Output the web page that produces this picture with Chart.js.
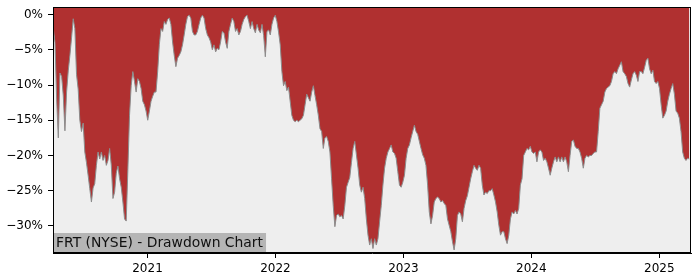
<!DOCTYPE html>
<html><head><meta charset="utf-8">
<script src="https://cdn.jsdelivr.net/npm/chart.js@4.4.1/dist/chart.umd.min.js"></script>
<style>html,body{margin:0;padding:0;background:#fff}</style>
</head><body>
<canvas id="c" width="700" height="280" style="display:block;width:700px;height:280px"></canvas>
<script>
// ---- data ----
const chartTitle = 'FRT (NYSE) - Drawdown Chart';
// samples are on a regular time grid (decimal years), about every 4.7 days
const firstSampleYear = 2020.264;
const sampleStepYears = 0.012944;
const yearTicks = [2021, 2022, 2023, 2024, 2025];
const pctTicks = [0, -5, -10, -15, -20, -25, -30];
const drawdownPct = [
  -2.0,-4.0,-12.0,-17.5,-8.3,-8.8,-11.5,-16.5,-11.0,-8.0,-5.8,-3.3,-0.6,-2.0,-8.5,-10.6,-15.0,-16.6,-15.4,-19.5,
  -21.0,-22.8,-24.7,-26.6,-24.6,-24.0,-21.4,-19.5,-20.5,-19.5,-20.7,-20.0,-21.4,-20.7,-19.0,-21.4,-26.1,-25.2,-22.5,-21.5,
  -23.3,-24.5,-26.6,-29.0,-29.3,-22.0,-14.3,-10.1,-8.1,-9.5,-11.0,-9.1,-9.5,-10.5,-12.3,-12.8,-13.7,-15.0,-13.7,-12.3,
  -11.6,-11.0,
  -11.0,-8.1,-4.3,-2.0,-2.4,-1.0,-1.4,-0.7,-0.5,-1.4,
  -3.9,-5.8,-7.4,-6.2,-5.8,-5.3,-4.3,-2.9,-1.4,-0.3,
  -0.1,-0.5,-2.4,-2.9,-2.9,-2.4,-1.4,-0.5,-0.1,-0.5,
  -2.0,-2.9,-3.3,-3.9,-5.0,-4.3,-5.3,-4.8,-5.0,-3.9,
  -2.4,-2.6,-3.9,-4.8,-2.4,-1.4,-0.5,-1.0,-2.4,-2.0,
  -2.9,-2.4,-1.4,-0.7,-0.3,-0.1,-1.0,-2.0,-1.0,-2.0,
  -2.6,-1.4,-2.2,-2.6,
  -1.4,-3.0,-6.0,-2.4,-2.2,-2.9,-1.4,-0.5,-0.1,-1.0,
  -2.5,-4.3,-8.1,-10.1,-9.5,-10.8,-10.3,-12.3,-14.3,-15.0,
  -15.2,-15.0,-15.2,-15.0,-14.8,-14.3,-12.8,-11.3,-11.8,-12.3,
  -11.0,-10.1,-11.5,-12.8,-14.3,-16.2,-16.6,-19.0,-17.5,-17.3,
  -18.0,-19.5,-23.3,-27.1,-30.1,-28.5,-28.3,-28.7,-28.5,-29.0,
  -27.1,-24.5,-23.8,-23.1,-21.0,-19.0,-18.0,-19.9,-21.8,-24.2,
  -25.2,-24.5,-26.1,-29.0,
  -31.3,-32.7,-31.8,-33.2,-31.8,-32.7,-31.8,-29.4,-27.1,-24.2,
  -21.8,-20.4,-19.5,-19.0,-18.5,-19.5,-19.7,-20.4,-22.3,-24.2,
  -24.5,-23.8,-22.8,-20.4,-19.0,-18.5,-17.5,-16.6,-15.7,-16.6,
  -17.0,-18.0,-19.0,-19.9,-20.4,-21.4,-24.2,-28.0,-29.7,-28.5,
  -26.6,-26.1,-25.9,-26.1,-26.6,-26.4,-26.8,-27.1,-29.0,-29.9,
  -30.8,-32.2,-33.4,-31.8,-28.5,-28.0,-28.3,-29.4,-27.5,-26.4,
  -25.7,-24.5,-23.3,-22.3,
  -21.4,-21.8,-22.1,-21.4,-21.8,-24.2,-25.6,-25.2,-25.4,-25.0,
  -25.0,-24.7,-25.6,-26.6,-28.0,-29.9,-31.3,-30.8,-30.8,-31.8,
  -32.5,-31.3,-29.0,-28.0,-28.3,-27.8,-28.3,-27.5,-24.2,-23.3,
  -20.0,-19.5,-19.0,-19.2,-18.7,-19.5,-19.7,-19.5,-20.9,-19.5,
  -19.2,-19.5,-20.7,-20.4,-20.9,-21.8,-22.8,-21.8,-20.9,-20.2,
  -20.9,-20.2,-20.9,-20.2,-20.9,-20.2,-20.9,-22.3,-20.0,-18.0,
  -17.8,-18.7,-19.0,-19.0,
  -19.5,-20.4,-21.8,-20.4,-20.0,-20.2,-20.0,-20.0,-19.7,-19.5,
  -19.5,-16.6,-13.3,-12.8,-12.3,-11.0,-10.5,-10.3,-10.1,-9.5,
  -8.4,-8.1,-8.4,-7.7,-7.2,-6.7,-8.1,-8.4,-8.8,-9.8,
  -10.3,-9.3,-8.4,-8.1,-8.6,-9.5,-8.1,-8.1,-8.4,-7.5,
  -6.5,-6.2,-7.7,-8.4,-7.9,-9.5,-9.8,-9.5,-10.5,-12.8,
  -14.7,-14.3,-13.7,-12.3,-11.3,-10.5,-9.8,-11.3,-13.7,-14.0,
  -14.7,-16.6,-19.5,-20.4,-20.7,-20.4,-20.5
];

// ---- chart ----
const points = drawdownPct.map((v, i) => ({ x: firstSampleYear + i * sampleStepYears, y: v }));
const FONT = '"DejaVu Sans", sans-serif';

const framePlugin = {
  id: 'frame',
  beforeDraw(chart) {
    const { ctx, chartArea: a } = chart;
    ctx.save();
    ctx.fillStyle = '#eeeeee';
    ctx.fillRect(a.left, a.top, a.right - a.left, a.bottom - a.top);
    ctx.restore();
  },
  afterDraw(chart) {
    const { ctx, chartArea: a } = chart;
    ctx.save();
    // title box
    ctx.font = '13.9px ' + FONT;
    const w = ctx.measureText(chartTitle).width;
    ctx.fillStyle = '#b5b5b5';
    ctx.fillRect(a.left, a.bottom - 20, w + 6, 20);
    ctx.fillStyle = '#111';
    ctx.textBaseline = 'alphabetic';
    ctx.textAlign = 'left';
    ctx.fillText(chartTitle, a.left + 3, a.bottom - 6);
    // frame
    ctx.strokeStyle = '#000';
    ctx.lineWidth = 1;
    ctx.strokeRect(a.left + 0.5, a.top + 0.5, a.right - a.left - 1, a.bottom - a.top - 1);
    ctx.restore();
  }
};

new Chart(document.getElementById('c'), {
  type: 'line',
  data: {
    datasets: [{
      data: points,
      fill: 'end',
      backgroundColor: '#b03030',
      borderColor: '#8c8c8c',
      borderWidth: 1,
      pointRadius: 0,
      tension: 0
    }]
  },
  options: {
    responsive: false,
    animation: false,
    events: [],
    layout: { padding: { top: 7, right: 9, left: 0, bottom: 0 } },
    plugins: { legend: { display: false }, tooltip: { enabled: false } },
    scales: {
      x: {
        type: 'linear',
        min: 2020.2614,
        max: 2025.2478,
        afterBuildTicks: s => { s.ticks = yearTicks.map(v => ({ value: v })); },
        afterFit: s => { s.height = 27; s.paddingLeft = 0; s.paddingRight = 0; },
        ticks: {
          autoSkip: false, maxRotation: 0, color: '#000', padding: 4,
          font: { family: FONT, size: 12 },
          callback: v => String(v)
        },
        grid: { drawOnChartArea: false, drawTicks: true, tickLength: 5, color: '#000' },
        border: { display: true, color: '#000' }
      },
      y: {
        min: -33.83,
        max: 1.064,
        afterBuildTicks: s => { s.ticks = pctTicks.map(v => ({ value: v })); },
        afterFit: s => { s.width = 53; s.paddingTop = 0; s.paddingBottom = 0; },
        ticks: {
          autoSkip: false, color: '#000', padding: 5,
          font: { family: FONT, size: 12 },
          callback: v => (v === 0 ? '0%' : '\u2212' + Math.abs(v) + '%')
        },
        grid: { drawOnChartArea: false, drawTicks: true, tickLength: 5, color: '#000' },
        border: { display: true, color: '#000' }
      }
    }
  },
  plugins: [framePlugin]
});
</script>
</body></html>
